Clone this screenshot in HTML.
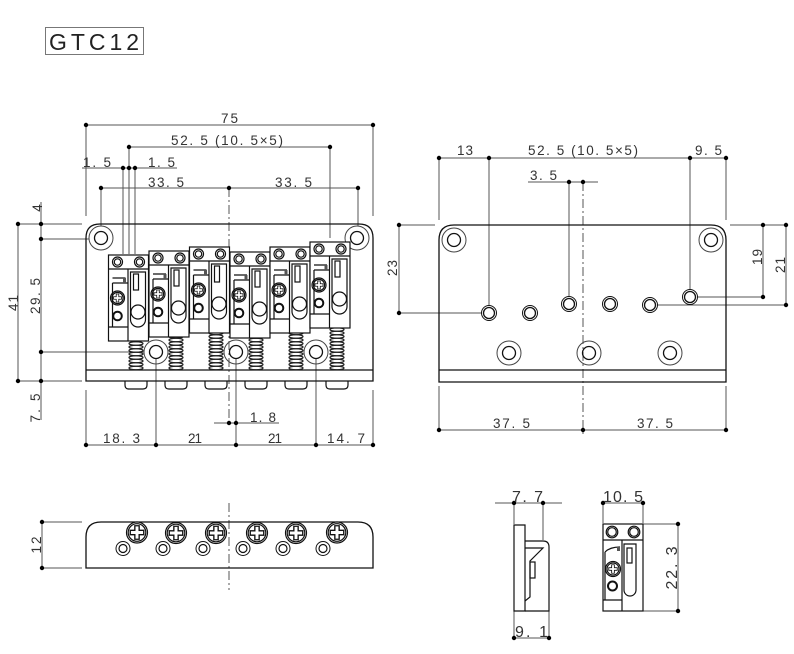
<!DOCTYPE html>
<html><head><meta charset="utf-8"><style>
html,body{margin:0;padding:0;background:#fff;}
svg{display:block;}
text{font-family:"Liberation Sans",sans-serif;fill:#333;}
</style></head><body>
<svg width="794" height="654" viewBox="0 0 794 654" xmlns="http://www.w3.org/2000/svg">
<defs>
<g id="cr"><path d="M-1.6 -5H1.6V-1.6H5V1.6H1.6V5H-1.6V1.6H-5V-1.6H-1.6Z" fill="none" stroke="#111" stroke-width="1"/></g>
<g id="sd" fill="none" stroke="#111" stroke-width="1.2">
 <rect x="0" y="0" width="40" height="86" fill="#fff"/>
 <path d="M0 14H40M19.5 14V86M4 28V72M0 72H19.5M4 23H17M4 28H19.5"/>
 <rect x="14.5" y="23" width="3" height="5" fill="#555" stroke="none"/>
 <circle cx="9" cy="7" r="5"/><circle cx="9" cy="7" r="3.2"/>
 <circle cx="31" cy="7" r="5"/><circle cx="31" cy="7" r="3.2"/>
 <circle cx="9" cy="43" r="7"/><circle cx="9" cy="43" r="5.6"/>
 <use href="#cr" transform="translate(9 43) scale(0.8)"/>
 <circle cx="9" cy="61" r="4.3" stroke-width="2"/>
 <path d="M22 17H37V64.5A7.5 7.5 0 0 1 22 64.5Z"/>
 <rect x="25" y="19" width="5" height="16"/>
 <circle cx="29.5" cy="57" r="7"/>
</g>
<g id="sp" fill="none" stroke="#222" stroke-width="1.2">
 <ellipse cx="0" cy="1.5" rx="7" ry="1.7"/><ellipse cx="0" cy="5" rx="7" ry="1.7"/>
 <ellipse cx="0" cy="8.5" rx="7" ry="1.7"/><ellipse cx="0" cy="12" rx="7" ry="1.7"/>
 <ellipse cx="0" cy="15.5" rx="7" ry="1.7"/><ellipse cx="0" cy="19" rx="7" ry="1.7"/>
 <ellipse cx="0" cy="22.5" rx="7" ry="1.7"/><ellipse cx="0" cy="26" rx="7" ry="1.7"/>
 <ellipse cx="0" cy="29.5" rx="7" ry="1.7"/><ellipse cx="0" cy="33" rx="7" ry="1.7"/>
 <ellipse cx="0" cy="36.5" rx="7" ry="1.7"/><ellipse cx="0" cy="40" rx="7" ry="1.7"/>
 <ellipse cx="0" cy="43.5" rx="7" ry="1.7"/><ellipse cx="0" cy="47" rx="7" ry="1.7"/>
</g>
<g id="tab"><path d="M-11 0V4Q-11 8 -7 8H7Q11 8 11 4V0" fill="none" stroke="#111" stroke-width="1.2"/></g>
<g id="mh" fill="none"><circle r="12" stroke="#444" stroke-width="1"/><circle r="6.5" stroke="#111" stroke-width="1.3"/></g>
<g id="sh" fill="none" stroke="#111"><circle r="7.5" stroke-width="1"/><circle r="5.5" stroke-width="1.3"/></g>
<g id="scr2" fill="#fff" stroke="#111" stroke-width="1.2"><circle r="10.5"/><circle r="8.8"/><use href="#cr" transform="scale(1.35)"/></g>
<g id="hl2" fill="none" stroke="#111"><circle r="7" stroke-width="1"/><circle r="4" stroke-width="1.2"/></g>
<g id="dt"><circle r="2.2" fill="#000"/></g>
</defs>

<!-- Title -->
<rect x="45.5" y="27.5" width="98" height="27" fill="none" stroke="#777" stroke-width="1"/>
<text x="49" y="50" font-size="23" textLength="90" lengthAdjust="spacing" style="fill:#222">GTC12</text>

<!-- ========== FRONT VIEW ========== -->
<g stroke="#555" stroke-width="1" fill="none">
 <path d="M86 125H373M129 147H330M82 168H177M101 188H358"/>
 <path d="M86 125V216M373 125V216M129 147V254M330 147V238M123 168V254M135 168V254M101 188V226M358 188V226"/>
 <path d="M18 224V381M41 202V420M18 224H82M41 239H89M41 352H144M18 381H82"/>
 <path d="M86 390V445M373 390V445M156 358V445M236 358V445M316 358V445M86 445H373M214 423H279"/>
</g>
<line x1="229" y1="188" x2="229" y2="423" stroke="#555" stroke-width="1" stroke-dasharray="9 3 2 3"/>

<path d="M86 381V238Q86 224 100 224H359Q373 224 373 238V381Z M86 370H373" fill="none" stroke="#111" stroke-width="1.3"/>
<use href="#sp" x="136" y="321"/><use href="#sp" x="176" y="321"/><use href="#sp" x="216" y="321"/>
<use href="#sp" x="256" y="321"/><use href="#sp" x="296" y="321"/><use href="#sp" x="337" y="321"/>
<use href="#tab" x="136" y="381"/><use href="#tab" x="176" y="381"/><use href="#tab" x="216" y="381"/>
<use href="#tab" x="256" y="381"/><use href="#tab" x="296" y="381"/><use href="#tab" x="337" y="381"/>
<use href="#mh" x="101" y="238"/><use href="#mh" x="357" y="238"/>
<use href="#mh" x="156" y="352"/><use href="#mh" x="236" y="352"/><use href="#mh" x="316" y="352"/>
<use href="#sd" x="108.5" y="255"/>
<use href="#sd" x="149" y="251"/>
<use href="#sd" x="189.5" y="247"/>
<use href="#sd" x="230" y="252"/>
<use href="#sd" x="270" y="247"/>
<use href="#sd" x="310" y="242"/>

<use href="#dt" x="86" y="125"/><use href="#dt" x="373" y="125"/>
<use href="#dt" x="129" y="147"/><use href="#dt" x="330" y="147"/>
<use href="#dt" x="123" y="168"/><use href="#dt" x="129" y="168"/><use href="#dt" x="135" y="168"/>
<use href="#dt" x="101" y="188"/><use href="#dt" x="229" y="188"/><use href="#dt" x="358" y="188"/>
<use href="#dt" x="18" y="224"/><use href="#dt" x="41" y="224"/><use href="#dt" x="41" y="239"/>
<use href="#dt" x="41" y="352"/><use href="#dt" x="18" y="381"/><use href="#dt" x="41" y="381"/>
<use href="#dt" x="86" y="445"/><use href="#dt" x="156" y="445"/><use href="#dt" x="236" y="445"/>
<use href="#dt" x="316" y="445"/><use href="#dt" x="373" y="445"/>
<use href="#dt" x="229" y="423"/><use href="#dt" x="236" y="423"/>

<g font-size="13.5">
 <text x="221" y="123" textLength="17" lengthAdjust="spacing">75</text>
 <text x="171" y="145" textLength="112" lengthAdjust="spacing">52. 5 (10. 5×5)</text>
 <text x="83" y="167" textLength="28" lengthAdjust="spacing">1. 5</text>
 <text x="148" y="167" textLength="27" lengthAdjust="spacing">1. 5</text>
 <text x="148" y="187" textLength="36" lengthAdjust="spacing">33. 5</text>
 <text x="275" y="187" textLength="37" lengthAdjust="spacing">33. 5</text>
 <text x="103" y="443" textLength="37" lengthAdjust="spacing">18. 3</text>
 <text x="188" y="443" textLength="14" lengthAdjust="spacing">21</text>
 <text x="268" y="443" textLength="14" lengthAdjust="spacing">21</text>
 <text x="327" y="443" textLength="38" lengthAdjust="spacing">14. 7</text>
 <text x="250" y="422" textLength="26" lengthAdjust="spacing">1. 8</text>
 <text transform="translate(37 208) rotate(-90)" x="0" y="5" text-anchor="middle">4</text>
 <text transform="translate(13 303) rotate(-90)" x="0" y="5" text-anchor="middle" textLength="16" lengthAdjust="spacing">41</text>
 <text transform="translate(35 296) rotate(-90)" x="0" y="5" text-anchor="middle" textLength="36" lengthAdjust="spacing">29. 5</text>
 <text transform="translate(35 408) rotate(-90)" x="0" y="5" text-anchor="middle" textLength="29" lengthAdjust="spacing">7. 5</text>
</g>

<!-- ========== TOP VIEW (right) ========== -->
<g stroke="#555" stroke-width="1" fill="none">
 <path d="M439 158H726M528 182H598M439 158V220M726 158V220M489 158V305M569 182V296M690 158V289"/>
 <path d="M399 225V313M399 225H435M399 313H482M730 225H786M763 225V297M786 225V305M697 297H763M657 305H786"/>
 <path d="M439 386V430M726 386V430M439 430H726"/>
</g>
<line x1="583" y1="182" x2="583" y2="435" stroke="#555" stroke-width="1" stroke-dasharray="9 3 2 3"/>
<path d="M439 382V240Q439 225 454 225H711Q726 225 726 240V382Z M439 370H726" fill="none" stroke="#111" stroke-width="1.3"/>
<use href="#mh" x="454" y="240"/><use href="#mh" x="711" y="240"/>
<use href="#mh" x="509" y="353"/><use href="#mh" x="589" y="353"/><use href="#mh" x="670" y="353"/>
<use href="#sh" x="489" y="313"/><use href="#sh" x="530" y="313"/><use href="#sh" x="569" y="304"/>
<use href="#sh" x="610" y="304"/><use href="#sh" x="650" y="305"/><use href="#sh" x="690" y="297"/>
<use href="#dt" x="439" y="158"/><use href="#dt" x="489" y="158"/><use href="#dt" x="690" y="158"/><use href="#dt" x="726" y="158"/>
<use href="#dt" x="569" y="182"/><use href="#dt" x="583" y="182"/>
<use href="#dt" x="399" y="225"/><use href="#dt" x="399" y="313"/>
<use href="#dt" x="763" y="225"/><use href="#dt" x="763" y="297"/><use href="#dt" x="786" y="225"/><use href="#dt" x="786" y="305"/>
<use href="#dt" x="439" y="430"/><use href="#dt" x="583" y="430"/><use href="#dt" x="726" y="430"/>
<g font-size="13.5">
 <text x="457" y="155" textLength="16" lengthAdjust="spacing">13</text>
 <text x="528" y="155" textLength="110" lengthAdjust="spacing">52. 5 (10. 5×5)</text>
 <text x="695" y="155" textLength="27" lengthAdjust="spacing">9. 5</text>
 <text x="530" y="180" textLength="27" lengthAdjust="spacing">3. 5</text>
 <text x="493" y="428" textLength="37" lengthAdjust="spacing">37. 5</text>
 <text x="637" y="428" textLength="36" lengthAdjust="spacing">37. 5</text>
 <text transform="translate(392 268) rotate(-90)" x="0" y="5" text-anchor="middle" textLength="16" lengthAdjust="spacing">23</text>
 <text transform="translate(757 257) rotate(-90)" x="0" y="5" text-anchor="middle" textLength="16" lengthAdjust="spacing">19</text>
 <text transform="translate(780 265) rotate(-90)" x="0" y="5" text-anchor="middle" textLength="16" lengthAdjust="spacing">21</text>
</g>

<!-- ========== REAR VIEW (bottom-left) ========== -->
<g stroke="#555" stroke-width="1" fill="none">
 <path d="M42 522V568M42 522H82M42 568H82"/>
</g>
<line x1="229" y1="503" x2="229" y2="590" stroke="#555" stroke-width="1" stroke-dasharray="9 3 2 3"/>
<path d="M86 568V537Q86 522 101 522H358Q373 522 373 537V568Z" fill="none" stroke="#111" stroke-width="1.3"/>
<use href="#hl2" x="123" y="548.5"/><use href="#hl2" x="163" y="548.5"/><use href="#hl2" x="203" y="548.5"/>
<use href="#hl2" x="243" y="548.5"/><use href="#hl2" x="283" y="548.5"/><use href="#hl2" x="323" y="548.5"/>
<use href="#scr2" x="137" y="532.5"/><use href="#scr2" x="176" y="533"/><use href="#scr2" x="216" y="533"/>
<use href="#scr2" x="257" y="533"/><use href="#scr2" x="296" y="533"/><use href="#scr2" x="337" y="532.5"/>
<use href="#dt" x="42" y="522"/><use href="#dt" x="42" y="568"/>
<text transform="translate(36 545) rotate(-90)" x="0" y="5" text-anchor="middle" font-size="13.5" textLength="17" lengthAdjust="spacing">12</text>

<!-- ========== SADDLE SIDE VIEW ========== -->
<g stroke="#555" stroke-width="1" fill="none">
 <path d="M495 503H562M514 503V524M543 503V540M514 611V638M549 611V638M514 638H549"/>
</g>
<g fill="none" stroke="#111" stroke-width="1.2">
 <path d="M514 525H525V611H514Z"/>
 <path d="M525 541H543Q549 541 549 547V611H525"/>
 <path d="M525 548H543L530 561V597L525 601"/>
 <rect x="530" y="562" width="5" height="16"/>
</g>
<use href="#dt" x="514" y="503"/><use href="#dt" x="543" y="503"/>
<use href="#dt" x="514" y="638"/><use href="#dt" x="549" y="638"/>

<!-- ========== SADDLE FRONT VIEW ========== -->
<g stroke="#555" stroke-width="1" fill="none">
 <path d="M603 503H643M603 503V523M643 503V523M643 524H678M643 611H678M678 524V611"/>
</g>
<g fill="none" stroke="#111" stroke-width="1.2">
 <rect x="603" y="524" width="40" height="87" fill="#fff"/>
 <path d="M603 540H643M622 540V611M603 600H622M605 552V600M605 552Q610 547 620 547"/>
 <rect x="617" y="547" width="3" height="4" fill="#555" stroke="none"/>
 <circle cx="612" cy="532" r="5.8"/><circle cx="612" cy="532" r="4.3"/>
 <circle cx="634" cy="532" r="5.8"/><circle cx="634" cy="532" r="4.3"/>
 <circle cx="613" cy="569" r="7.5"/><circle cx="613" cy="569" r="6"/>
 <use href="#cr" transform="translate(613 569) scale(0.85)"/>
 <circle cx="612.5" cy="586" r="4.5" stroke-width="2"/>
 <path d="M624 544H636V590A6 6 0 0 1 624 590Z"/>
 <rect x="627" y="548" width="5" height="15"/>
</g>
<use href="#dt" x="603" y="503"/><use href="#dt" x="643" y="503"/>
<use href="#dt" x="678" y="524"/><use href="#dt" x="678" y="611"/>

<g font-size="16">
 <text x="512" y="502" textLength="31" lengthAdjust="spacing">7. 7</text>
 <text x="603" y="502" textLength="40" lengthAdjust="spacing">10. 5</text>
 <text x="515" y="637" textLength="33" lengthAdjust="spacing">9. 1</text>
 <text transform="translate(671 568) rotate(-90)" x="0" y="6" text-anchor="middle" textLength="43" lengthAdjust="spacing">22. 3</text>
</g>
</svg>
</body></html>
